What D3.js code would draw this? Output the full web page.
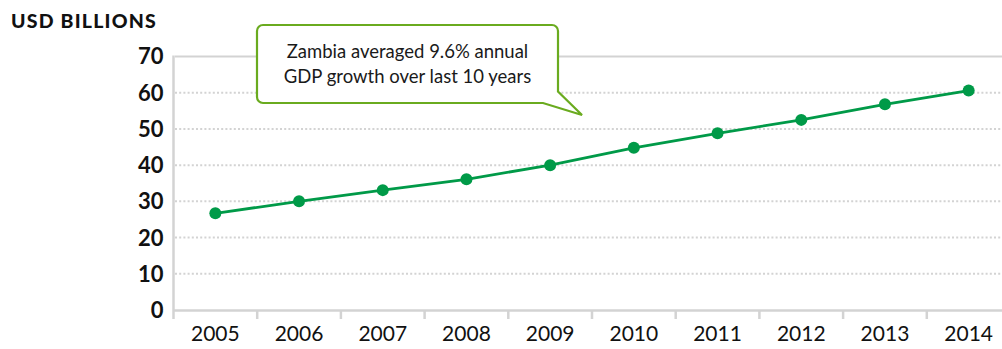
<!DOCTYPE html>
<html>
<head>
<meta charset="utf-8">
<script src="https://cdn.jsdelivr.net/npm/d3@7"></script>
<style>
  body { margin: 0; background: #fff; }
  svg { display: block; }
  svg text { font-family: Lato, "Open Sans", sans-serif; }
</style>
</head>
<body>
<div id="chart"></div>
<script>
// data
const years = ["2005", "2006", "2007", "2008", "2009", "2010", "2011", "2012", "2013", "2014"];
const gdp = [26.7, 30.0, 33.1, 36.1, 40.0, 44.8, 48.8, 52.5, 56.8, 60.6];
const yTicks = [0, 10, 20, 30, 40, 50, 60, 70];
const unitLabel = "USD BILLIONS";
const noteLines = ["Zambia averaged 9.6% annual", "GDP growth over last 10 years"];

let width = 1002,
    height = 349;

let green = "#009a48",
    calloutGreen = "#6aab1f",
    axisGrey = "#d3d3d3";

var svg = d3.select("#chart")
    .append("svg")
    .attr("width", width)
    .attr("height", height);

var x = d3.scaleBand()
    .domain(years)
    .range([173.5, 1010.5]);

var y = d3.scaleLinear()
    .domain([0, 70])
    .range([310, 56.5]);

// dotted gridlines (top one solid)
svg.append("g")
    .selectAll("line")
    .data(yTicks.filter(d => d > 0))
    .enter()
    .append("line")
    .attr("x1", 175)
    .attr("x2", width)
    .attr("y1", d => y(d))
    .attr("y2", d => y(d))
    .style("stroke", axisGrey)
    .style("stroke-width", 2)
    .style("stroke-dasharray", d => d == 70 ? null : "2,2.2");

// y axis
var yAxis = svg.append("g")
    .attr("transform", "translate(" + 173.5 + ",0)")
    .call(d3.axisLeft(y).tickValues(yTicks).tickSize(0).tickPadding(10));

yAxis.select(".domain").remove();
yAxis.selectAll("text")
    .attr("dy", "0.34em")
    .style("font-size", "22px")
    .style("font-weight", "700")
    .style("fill", "#111");

svg.append("line")
    .attr("x1", 173.5).attr("x2", 173.5)
    .attr("y1", y(70) - 1).attr("y2", 319)
    .style("stroke", axisGrey)
    .style("stroke-width", 2.5);

// x axis
var xAxis = svg.append("g")
    .attr("transform", "translate(0," + y(0) + ")")
    .call(d3.axisBottom(x).tickSize(0).tickPadding(16));

xAxis.select(".domain")
    .style("stroke", axisGrey)
    .style("stroke-width", 2.5);
xAxis.selectAll("text")
    .style("font-size", "21px")
    .style("font-weight", "400")
    .style("fill", "#111");

svg.append("g")
    .selectAll("line")
    .data(years.slice(1))
    .enter()
    .append("line")
    .attr("x1", d => x(d))
    .attr("x2", d => x(d))
    .attr("y1", y(0))
    .attr("y2", 319)
    .style("stroke", axisGrey)
    .style("stroke-width", 2.5);

// unit label
svg.append("text")
    .attr("x", 11)
    .attr("y", 28)
    .text(unitLabel)
    .style("font-size", "19.5px")
    .style("font-weight", "900")
    .style("letter-spacing", "1.2px")
    .style("fill", "#111");

// line + points
var line = d3.line()
    .x((d, i) => x(years[i]) + x.bandwidth() / 2)
    .y(d => y(d));

svg.append("path")
    .datum(gdp)
    .attr("d", line)
    .style("fill", "none")
    .style("stroke", green)
    .style("stroke-width", 2.8);

svg.append("g")
    .selectAll("circle")
    .data(gdp)
    .enter()
    .append("circle")
    .attr("cx", (d, i) => x(years[i]) + x.bandwidth() / 2)
    .attr("cy", d => y(d))
    .attr("r", 6)
    .style("fill", green);

// callout bubble
let bx0 = 257, bx1 = 558, by0 = 25, by1 = 103, r = 6;
let tail = [[543, by1], [582, 115], [558, 91.5]];

var p = d3.path();
p.moveTo(bx0 + r, by0);
p.lineTo(bx1 - r, by0);
p.arcTo(bx1, by0, bx1, by0 + r, r);
p.lineTo(tail[2][0], tail[2][1]);
p.lineTo(tail[1][0], tail[1][1]);
p.lineTo(tail[0][0], tail[0][1]);
p.lineTo(bx0 + r, by1);
p.arcTo(bx0, by1, bx0, by1 - r, r);
p.lineTo(bx0, by0 + r);
p.arcTo(bx0, by0, bx0 + r, by0, r);
p.closePath();

svg.append("path")
    .attr("d", p.toString())
    .style("fill", "#fff")
    .style("stroke", calloutGreen)
    .style("stroke-width", 2.2)
    .style("stroke-linejoin", "miter");

svg.append("g")
    .selectAll("text")
    .data(noteLines)
    .enter()
    .append("text")
    .attr("x", (bx0 + bx1) / 2)
    .attr("y", (d, i) => 58 + i * 25)
    .attr("text-anchor", "middle")
    .text(d => d)
    .style("font-size", "18.5px")
    .style("font-weight", "400")
    .style("fill", "#1a1a1a");
</script>
</body>
</html>
